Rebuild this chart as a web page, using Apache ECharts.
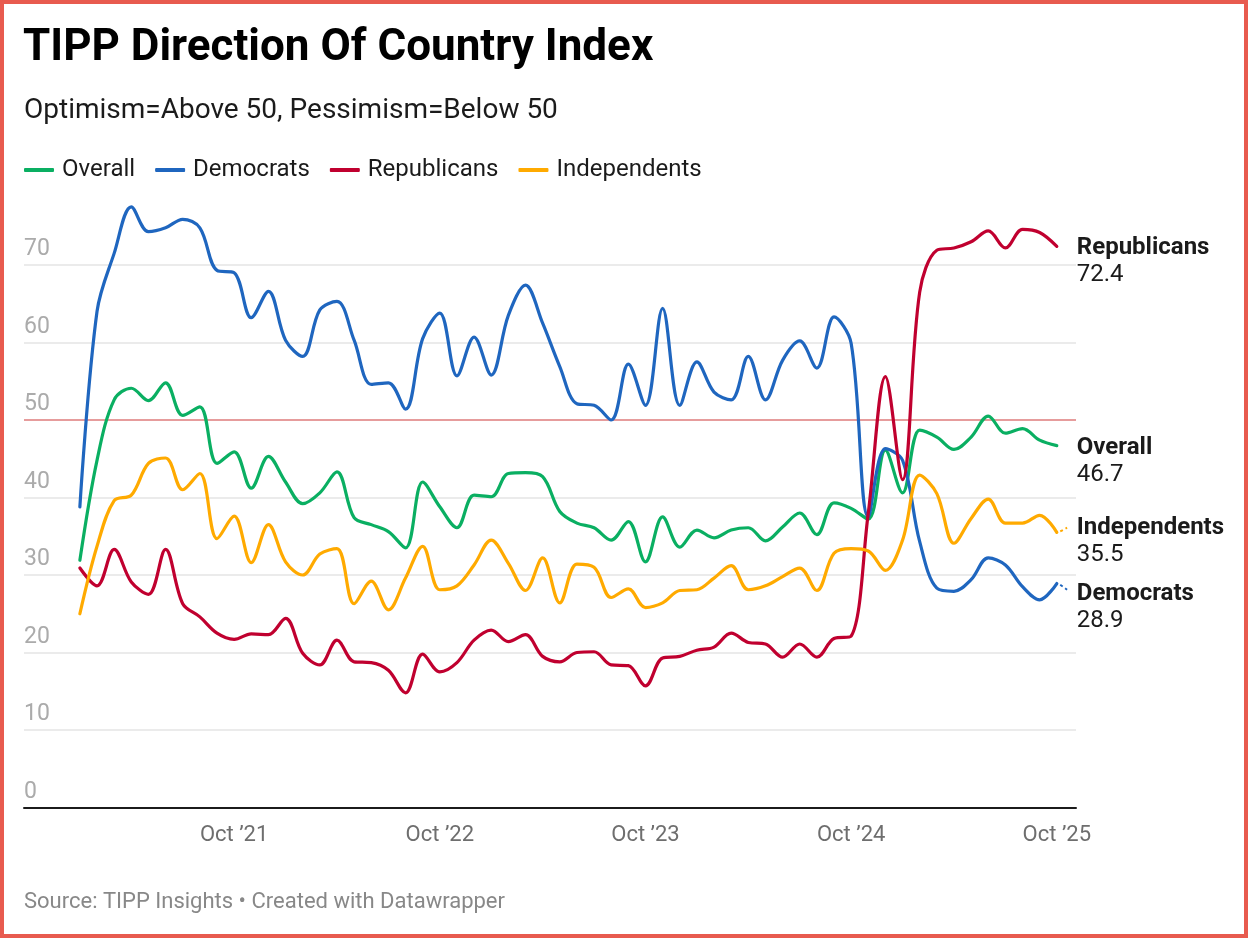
<!DOCTYPE html>
<html>
<head>
<meta charset="utf-8">
<script src="https://cdn.jsdelivr.net/npm/echarts@6/dist/echarts.min.js"></script>
<style>
  html, body { margin: 0; padding: 0; background: #fff; }
  #wrap { position: relative; width: 1248px; height: 938px; }
  #chart { position: absolute; left: 0; top: 0; width: 1248px; height: 938px; }
  #frame { position: absolute; left: 0; top: 0; width: 1248px; height: 938px; box-sizing: border-box; border: 4px solid #e85b4f; pointer-events: none; }
</style>
</head>
<body>
<div id="wrap"><div id="chart"></div><div id="frame"></div></div>
<script>
// Monthly survey periods (first: Jan 2021, last: Oct 2025)
const startYear = 2021, startMonth = 1, nPoints = 58;
const months = [];
for (let i = 0; i < nPoints; i++) {
  const t = (startYear * 12 + startMonth - 1) + i;
  months.push(Math.floor(t / 12) + '-' + String(t % 12 + 1).padStart(2, '0'));
}
const xTickLabels = ["Oct \u201921", "Oct \u201922", "Oct \u201923", "Oct \u201924", "Oct \u201925"];
const xTickMonths = ["2021-10", "2022-10", "2023-10", "2024-10", "2025-10"];
const yTicks = [0, 10, 20, 30, 40, 50, 60, 70];

const overall = [31.9, 44.8, 52.6, 54.1, 52.5, 54.8, 50.6, 51.7, 44.4, 45.9,
  41.2, 45.3, 42.0, 39.2, 40.6, 43.3, 37.4, 36.5, 35.6, 33.5,
  42.0, 38.8, 36.1, 40.3, 40.1, 43.1, 43.2, 42.7, 38.2, 36.7,
  36.1, 34.5, 36.9, 31.7, 37.5, 33.6, 35.8, 34.8, 35.8, 36.1,
  34.4, 36.2, 38.0, 35.2, 39.3, 38.6, 37.2, 46.1, 40.6, 48.7,
  47.8, 46.2, 47.8, 50.5, 48.3, 48.9, 47.4, 46.7];
const democrats = [38.8, 64.0, 71.5, 77.5, 74.3, 74.8, 75.9, 74.8, 69.3, 69.0,
  63.2, 66.6, 60.3, 58.2, 64.2, 65.3, 60.3, 54.6, 54.8, 51.4,
  60.5, 63.8, 55.7, 60.7, 55.8, 63.5, 67.4, 62.5, 56.9, 52.1,
  51.9, 50.0, 57.2, 51.9, 64.4, 51.9, 57.5, 53.6, 52.6, 58.2,
  52.6, 57.7, 60.2, 56.7, 63.3, 59.9, 37.5, 46.3, 44.8, 34.3,
  28.3, 27.9, 29.4, 32.2, 31.3, 28.5, 26.8, 28.9];
const republicans = [30.9, 28.6, 33.3, 29.1, 27.5, 33.3, 26.3, 24.6, 22.5, 21.7,
  22.4, 22.3, 24.4, 19.9, 18.4, 21.6, 18.8, 18.7, 17.7, 14.8,
  19.8, 17.5, 18.7, 21.6, 22.9, 21.4, 22.3, 19.5, 18.8, 20.0,
  20.1, 18.4, 18.3, 15.7, 19.3, 19.5, 20.3, 20.7, 22.5, 21.3,
  21.1, 19.4, 21.1, 19.4, 21.8, 22.1, 38.0, 55.6, 42.3, 66.5,
  71.9, 72.2, 73.0, 74.4, 72.2, 74.6, 74.2, 72.4];
const independents = [25.0, 33.7, 39.6, 40.3, 44.4, 45.1, 41.0, 43.1, 34.7, 37.6,
  31.6, 36.5, 31.7, 30.0, 32.7, 33.4, 26.3, 29.2, 25.5, 29.6,
  33.7, 28.1, 28.6, 31.3, 34.5, 31.5, 28.0, 32.2, 26.4, 31.4,
  31.0, 27.1, 28.2, 25.8, 26.4, 28.0, 28.1, 29.6, 31.2, 28.1,
  28.6, 29.8, 30.9, 28.0, 32.8, 33.4, 33.1, 30.6, 34.5, 42.9,
  40.5, 34.1, 37.3, 39.8, 36.7, 36.7, 37.7, 35.5];

const seriesNames = ["Overall", "Democrats", "Republicans", "Independents"];
const seriesColors = ["#0aaf62", "#1f66bf", "#c0002f", "#ffaa00"];
const seriesData = [overall, democrats, republicans, independents];
const labelShift = [16, 24, 15.5, 9];   // vertical offset of end labels (px)
const connectorDir = [0, -0.8, 0, 0.6]; // Datawrapper label connector (value units)

// month index relative to Oct 2020
function monthIndex(s) {
  const [y, m] = s.split('-').map(Number);
  return (y - 2020) * 12 + (m - 10);
}
const xVals = months.map(monthIndex);
const xTicks = xTickMonths.map(monthIndex);

const FONT = 'Roboto, "Noto Sans", sans-serif';

const series = seriesNames.map((name, k) => ({
  name,
  type: 'line',
  data: seriesData[k].map((v, i) => [xVals[i], v]),
  showSymbol: false,
  symbol: 'none',
  smooth: 0.35,
  lineStyle: { width: 3.2, color: seriesColors[k], cap: 'round', join: 'round' },
  itemStyle: { color: seriesColors[k] },
  emphasis: { disabled: true },
  z: 3,
  endLabel: {
    show: true,
    distance: 0,
    offset: [20, labelShift[k]],
    formatter: p => '{n|' + name + '}\n{v|' + p.value[1].toFixed(1) + '}',
    rich: {
      n: { fontFamily: FONT, fontSize: 24, fontWeight: 'bold', color: '#1b1b1b', lineHeight: 27 },
      v: { fontFamily: FONT, fontSize: 24, color: '#1b1b1b', lineHeight: 27 }
    }
  }
}));

// small dashed connectors from line end toward shifted labels
seriesNames.forEach((name, k) => {
  if (!connectorDir[k]) return;
  const d = seriesData[k];
  const lx = xVals[xVals.length - 1], lv = d[d.length - 1];
  series.push({
    type: 'line', silent: true, symbol: 'none', z: 2,
    data: [[lx + 0.2, lv + connectorDir[k] * 0.2], [lx + 0.6, lv + connectorDir[k]]],
    lineStyle: { width: 2, color: seriesColors[k], type: [3, 3] },
    emphasis: { disabled: true }, legendHoverLink: false
  });
});

const splitColors = yTicks.map(v => v === 50 ? '#de7b7b' : '#e4e4e4').concat(['rgba(0,0,0,0)']);

const chart = echarts.init(document.getElementById('chart'), null, { renderer: 'canvas' });
chart.setOption({
  animation: false,
  backgroundColor: '#fff',
  title: [
    { text: 'TIPP Direction Of Country Index', left: 23, top: 27, padding: 0,
      textStyle: { fontFamily: FONT, fontSize: 44, fontWeight: 'bold', color: '#000' } },
    { text: 'Optimism=Above 50, Pessimism=Below 50', left: 24, top: 97, padding: 0,
      textStyle: { fontFamily: FONT, fontSize: 28, fontWeight: 'normal', color: '#1b1b1b' } },
    { text: 'Source: TIPP Insights \u2022 Created with Datawrapper', left: 24, top: 891, padding: 0,
      textStyle: { fontFamily: FONT, fontSize: 22, fontWeight: 'normal', color: '#888' } }
  ],
  legend: {
    data: seriesNames,
    left: 24, top: 158, padding: 0,
    icon: 'roundRect', itemWidth: 30, itemHeight: 4, itemGap: 20,
    selectedMode: false,
    textStyle: { fontFamily: FONT, fontSize: 24, color: '#1b1b1b', padding: [0, 0, 0, 3] }
  },
  grid: { left: 24, right: 172, top: 203, bottom: 130.5, containLabel: false },
  xAxis: {
    type: 'value',
    min: -0.26, max: 61.12,
    splitLine: { show: false },
    axisTick: { show: false },
    axisLine: { show: true, onZero: false, lineStyle: { color: '#1b1b1b', width: 2 } },
    axisLabel: {
      customValues: xTicks,
      formatter: v => { const i = xTicks.indexOf(v); return i >= 0 ? xTickLabels[i] : ''; },
      margin: 17,
      fontFamily: FONT, fontSize: 22, color: '#6e6e6e'
    }
  },
  yAxis: {
    type: 'value', min: 0, max: 78, interval: 10,
    axisLine: { show: false }, axisTick: { show: false },
    splitLine: { show: true, lineStyle: { color: splitColors, width: 1.5 } },
    axisLabel: {
      inside: true, margin: 0, verticalAlign: 'bottom', showMaxLabel: false,
      padding: [0, 0, 4, 0],
      fontFamily: FONT, fontSize: 23, color: '#ababab'
    }
  },
  series
});
</script>
</body>
</html>
